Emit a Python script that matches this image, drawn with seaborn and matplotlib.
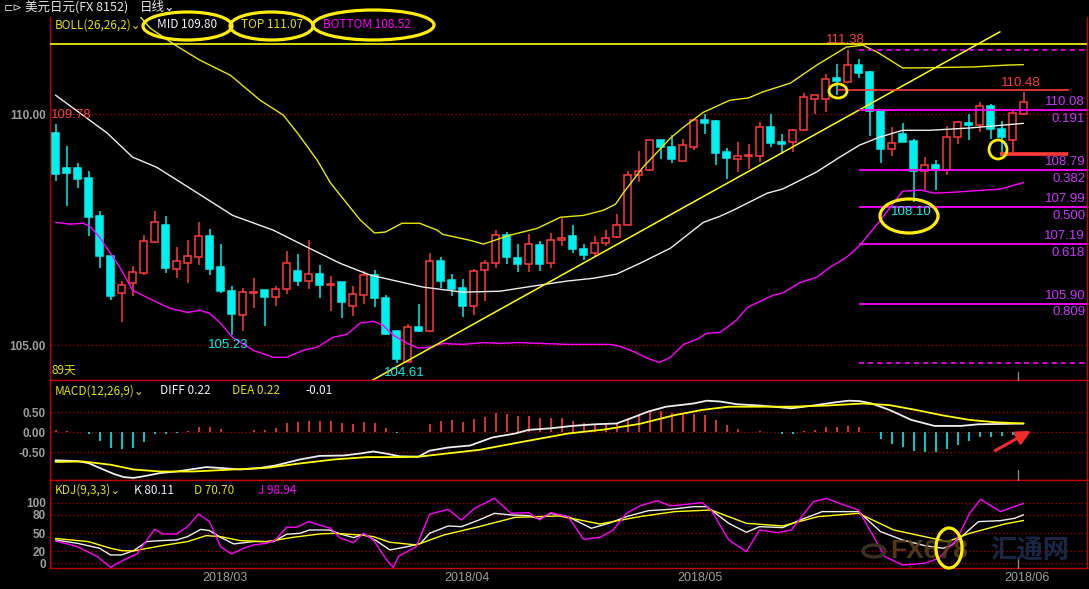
import numpy as np
import matplotlib
matplotlib.use("Agg")
import matplotlib.pyplot as plt
import matplotlib.patches as mpatches
from matplotlib.lines import Line2D
import seaborn as sns

# ---------------- data ----------------
opens = [109.59, 108.83, 108.83, 108.61, 107.79, 106.93, 106.13, 106.35, 106.56, 107.24,
         107.60, 106.66, 106.77, 106.90, 107.36, 106.69, 106.17, 105.66, 106.13, 106.19,
         106.05, 106.22, 106.60, 106.40, 106.55, 106.31, 106.36, 105.84, 106.08, 106.51,
         106.02, 105.30, 104.63, 105.39, 105.31, 106.82, 106.41, 106.23, 105.85, 106.62,
         106.77, 107.38, 106.88, 106.75, 107.18, 106.78, 107.28, 107.36, 107.09, 106.99,
         107.22, 107.34, 107.61, 108.69, 108.79, 109.43, 109.28, 108.99, 109.29, 109.87,
         109.85, 109.18, 109.04, 109.09, 109.10, 109.72, 109.40, 109.39, 109.65, 110.33,
         110.33, 110.78, 110.70, 111.07, 110.92, 110.08, 109.24, 109.56, 109.41, 108.76,
         108.89, 108.80, 109.50, 109.80, 109.77, 110.17, 109.68, 109.45, 110.01]
highs = [109.78, 109.31, 108.95, 108.77, 107.90, 106.93, 106.39, 106.72, 107.38, 107.90,
         107.79, 107.13, 107.27, 107.66, 107.51, 107.19, 106.28, 106.23, 106.45, 106.19,
         106.28, 107.03, 106.97, 107.27, 106.73, 106.50, 106.38, 106.29, 106.61, 106.62,
         106.08, 105.32, 105.47, 105.89, 106.99, 106.92, 106.54, 106.43, 106.65, 106.84,
         107.49, 107.45, 107.20, 107.40, 107.25, 107.42, 107.76, 107.61, 107.20, 107.37,
         107.50, 107.85, 108.77, 109.20, 109.45, 109.45, 109.55, 109.47, 109.87, 110.00,
         109.87, 109.26, 109.39, 109.35, 109.83, 110.00, 109.57, 109.68, 110.46, 110.41,
         110.87, 111.09, 111.38, 111.20, 110.94, 110.10, 109.73, 109.81, 109.46, 109.07,
         109.00, 109.74, 109.85, 110.00, 110.27, 110.22, 109.85, 110.12, 110.48]
lows = [108.55, 108.01, 108.40, 107.37, 106.67, 105.97, 105.50, 106.07, 106.52, 107.21,
        106.57, 106.46, 106.35, 106.73, 106.52, 106.13, 105.23, 105.32, 105.81, 105.42,
        105.85, 106.11, 106.28, 106.22, 106.02, 105.74, 105.58, 105.63, 105.90, 105.83,
        105.22, 104.61, 104.63, 105.29, 105.29, 106.23, 106.07, 105.61, 105.65, 105.96,
        106.68, 106.75, 106.59, 106.59, 106.61, 106.68, 107.15, 107.00, 106.84, 106.93,
        107.14, 107.33, 107.60, 108.53, 108.77, 109.03, 108.95, 108.99, 109.22, 109.57,
        108.90, 108.60, 108.75, 108.81, 108.96, 109.29, 109.14, 109.19, 109.65, 110.00,
        110.05, 110.41, 110.70, 110.79, 109.53, 108.95, 109.10, 109.40, 108.10, 108.36,
        108.36, 108.68, 109.36, 109.44, 109.62, 109.47, 109.16, 109.19, 109.97]
closes = [108.70, 108.73, 108.59, 107.78, 106.93, 106.07, 106.30, 106.58, 107.25, 107.66,
          106.67, 106.83, 106.93, 107.36, 106.65, 106.18, 105.68, 106.15, 106.16, 106.05,
          106.21, 106.79, 106.39, 106.55, 106.31, 106.33, 105.94, 106.10, 106.53, 106.03,
          105.24, 104.70, 105.39, 105.31, 106.83, 106.39, 106.21, 105.85, 106.60, 106.77,
          107.38, 106.91, 106.75, 107.20, 106.76, 107.27, 107.33, 107.09, 106.95, 107.22,
          107.33, 107.61, 108.69, 108.78, 109.43, 109.29, 109.03, 109.34, 109.87, 109.81,
          109.16, 109.05, 109.09, 109.11, 109.73, 109.38, 109.36, 109.65, 110.36, 110.41,
          110.75, 110.72, 111.07, 110.88, 110.07, 109.24, 109.37, 109.40, 108.76, 108.89,
          108.80, 109.50, 109.83, 109.76, 110.17, 109.68, 109.51, 110.02, 110.27]

# Bollinger bands (26,26,2) read at sample candles
mid_x = [0, 4.7, 7.0, 9.2, 12.2, 16.1, 19.8, 22.9, 25.9, 28.6, 33.4, 37.0, 40.4, 43.4, 46.5,
         48.9, 51.0, 53.1, 55.9, 57.4, 58.9, 60.4, 61.6, 64.7, 66.1, 67.7, 69.2, 71.3, 73.1,
         74.9, 77.0, 79.5, 83.1, 88.0]
mid_v = [110.41, 109.59, 109.07, 108.85, 108.40, 107.81, 107.49, 107.12, 106.77, 106.52,
         106.26, 106.15, 106.17, 106.28, 106.39, 106.45, 106.54, 106.77, 107.10, 107.38,
         107.66, 107.79, 107.92, 108.29, 108.38, 108.57, 108.75, 109.07, 109.33, 109.50,
         109.65, 109.65, 109.70, 109.80]
top_x = [7.0, 8.6, 10.9, 13.1, 15.9, 18.6, 20.7, 22.0, 23.8, 25.0, 27.7, 29.0, 30.0, 31.5,
         33.1, 34.7, 35.2, 37.7, 38.9, 41.3, 43.8, 45.9, 48.0, 49.8, 50.9, 51.6, 53.4, 55.9,
         57.0, 58.9, 61.3, 63.0, 64.3, 66.8, 69.2, 71.9, 73.4, 74.7, 77.0, 78.6, 83.4, 86.5,
         88.0]
top_v = [112.30, 111.86, 111.49, 111.17, 110.84, 110.30, 109.98, 109.59, 109.00, 108.51,
         107.71, 107.43, 107.45, 107.64, 107.64, 107.49, 107.40, 107.27, 107.19, 107.38,
         107.53, 107.77, 107.81, 107.92, 108.05, 108.29, 108.85, 109.48, 109.70, 110.04,
         110.30, 110.35, 110.48, 110.67, 111.06, 111.45, 111.49, 111.34, 111.00, 111.00,
         111.02, 111.06, 111.07]
bot_x = [0, 1.3, 2.5, 3.1, 4.0, 5.9, 7.0, 8.9, 10.4, 12.0, 13.1, 14.0, 15.0, 16.1, 18.0,
         19.8, 21.0, 22.5, 23.8, 25.2, 26.5, 27.7, 28.9, 29.8, 30.7, 32.0, 33.0, 34.0, 35.2,
         37.0, 38.9, 40.4, 42.0, 46.5, 50.4, 51.3, 52.5, 53.8, 54.9, 55.9, 57.1, 58.3, 59.2,
         60.4, 61.9, 62.9, 65.2, 66.1, 67.7, 69.2, 70.4, 71.9, 73.1, 74.0, 75.0, 77.0, 78.6,
         79.9, 81.6, 85.9, 88.0]
bot_v = [107.66, 107.62, 107.64, 107.58, 107.34, 106.67, 106.19, 105.97, 105.80, 105.71,
         105.76, 105.69, 105.48, 105.17, 104.89, 104.74, 104.74, 104.89, 104.96, 105.17,
         105.24, 105.48, 105.52, 105.43, 105.22, 105.04, 104.94, 104.96, 105.04, 105.02,
         105.06, 105.04, 105.06, 105.02, 105.02, 104.98, 104.87, 104.72, 104.63, 104.74,
         105.02, 105.13, 105.26, 105.28, 105.54, 105.82, 106.08, 106.13, 106.36, 106.47,
         106.69, 106.90, 107.16, 107.42, 107.71, 108.33, 108.36, 108.29, 108.31, 108.38,
         108.52]

# MACD (12,26,9)
macd_hist = [0.06, 0.03, 0.01, -0.05, -0.21, -0.38, -0.42, -0.38, -0.24, -0.05,
             -0.05, -0.02, 0.03, 0.13, 0.13, 0.08, 0.00, 0.02, 0.06, 0.06,
             0.11, 0.24, 0.27, 0.29, 0.29, 0.29, 0.24, 0.22, 0.27, 0.24,
             0.11, -0.02, 0.00, 0.00, 0.22, 0.29, 0.31, 0.26, 0.33, 0.38,
             0.49, 0.47, 0.41, 0.41, 0.36, 0.36, 0.36, 0.28, 0.23, 0.21,
             0.21, 0.23, 0.36, 0.44, 0.53, 0.53, 0.48, 0.46, 0.46, 0.43,
             0.31, 0.18, 0.08, 0.02, 0.03, 0.00, -0.03, -0.03, 0.03, 0.06,
             0.13, 0.13, 0.16, 0.13, 0.01, -0.17, -0.28, -0.37, -0.47, -0.50,
             -0.50, -0.42, -0.32, -0.22, -0.12, -0.12, -0.08, -0.07, -0.01]
diff_x = [0, 2, 3, 4, 5.3, 6.2, 7.1, 8, 9.5, 11, 12.5, 13.7, 14.9, 16.8, 18.6, 20, 22.2, 24,
          26.2, 27.7, 28.9, 30, 31.3, 33, 34, 35.7, 37.7, 39.7, 41.8, 43, 45, 47, 49, 51, 52.3,
          53.9, 55.5, 58, 59.2, 60.4, 62, 64, 66.9, 68.9, 70.9, 72.1, 73.1, 74.2, 75.8, 77.8,
          79.9, 82.3, 83.9, 86.3, 88]
diff_v = [-0.70, -0.72, -0.77, -0.89, -1.04, -1.12, -1.14, -1.10, -1.02, -0.98, -0.92, -0.87,
          -0.89, -0.93, -0.89, -0.83, -0.68, -0.59, -0.58, -0.53, -0.48, -0.53, -0.60, -0.61,
          -0.46, -0.38, -0.33, -0.13, -0.03, 0.06, 0.10, 0.16, 0.20, 0.22, 0.35, 0.52, 0.64,
          0.72, 0.79, 0.77, 0.70, 0.67, 0.60, 0.67, 0.75, 0.79, 0.78, 0.72, 0.56, 0.31, 0.16,
          0.16, 0.20, 0.21, 0.22]
dea_x = [0, 2.5, 5, 7.1, 9.5, 12.5, 16.2, 19.2, 22.2, 25.3, 28.3, 31.3, 33, 38.5, 42.6, 46.6,
         49.9, 53.1, 56.3, 58.8, 61.2, 64, 66.9, 70.2, 73.4, 75.8, 78.2, 80.7, 83.1, 85.5, 88]
dea_v = [-0.74, -0.73, -0.81, -0.93, -0.98, -0.98, -0.93, -0.89, -0.78, -0.68, -0.62, -0.62,
         -0.61, -0.44, -0.23, -0.03, 0.07, 0.21, 0.43, 0.56, 0.64, 0.64, 0.64, 0.67, 0.72,
         0.68, 0.56, 0.42, 0.31, 0.25, 0.22]

# KDJ (9,3,3)
k_x = [0, 2, 4, 5, 6, 7.1, 8.3, 9.5, 11, 12, 13.2, 14, 15, 16.2, 18, 19.8, 21, 22.2, 23.1,
       24.9, 25.9, 27.1, 28, 29.2, 30.4, 32, 33.2, 34, 35.7, 36.9, 38.5, 39.9, 41.4, 43, 44,
       45, 46.6, 48.7, 50.3, 51.9, 53.9, 55.9, 58, 59.2, 60, 61.2, 62.8, 64, 66.1, 67.7, 69.7,
       73, 75, 77, 79, 80.7, 81.5, 83.9, 85.9, 87.2, 88]
k_v = [38.5, 33, 24.8, 13.8, 13.8, 20.9, 35.8, 37.4, 38.5, 44, 56, 54, 43, 32, 35.8, 35.8,
       47.9, 49.5, 55, 55, 48.4, 42.4, 47.9, 36.9, 22, 27.5, 33, 49.5, 61.6, 60.5, 71.5, 82.5,
       79.8, 78.7, 73.2, 82.5, 77, 57.8, 66, 77, 86.9, 89.1, 93.5, 93.5, 82.5, 66, 51.2, 60.5,
       58.9, 71.5, 85.3, 85.3, 52.3, 38.5, 29.2, 24.8, 30.3, 68.8, 70.4, 74.3, 80.11]
d_x = [0, 3, 5, 6, 7.1, 9.5, 12, 13.7, 15, 16.8, 19.2, 21.6, 24, 25.3, 27.7, 28.9, 30.4, 32.8,
       35.3, 38.5, 41.8, 45.8, 49.5, 53.1, 56.3, 59.6, 62.8, 66.1, 69.3, 73, 76.2, 79, 81.1,
       83.1, 86.3, 88]
d_v = [41, 35.8, 24.8, 20.9, 20.4, 28.6, 35.8, 45.7, 44, 37.4, 35.8, 42.9, 48.4, 49.5, 46.8,
       44, 34.7, 30.3, 46.8, 60.5, 75.9, 78.1, 64.9, 77, 85.3, 88, 66, 61.6, 77, 82.5, 55, 44,
       35.8, 49.5, 64.9, 70.70]
j_x = [0, 2, 3.8, 5, 6.2, 7.4, 9, 9.8, 11, 12, 13, 14, 15, 16, 17.1, 18, 19.2, 20, 21, 21.9,
       23, 25, 25.9, 27.1, 28, 28.9, 30.1, 30.7, 31.2, 32.8, 34, 35.7, 36.9, 38.1, 39.9, 41.4,
       43, 44, 45, 46.6, 48, 49.5, 50.7, 51.9, 53.1, 54.7, 55.9, 58.8, 59.6, 61.2, 62.8, 64,
       65.7, 66.9, 68.9, 70.1, 71.4, 73, 74.2, 75.4, 77, 79, 80.3, 81.9, 83.1, 84.1, 85.9, 88]
j_v = [36.9, 27.5, 11, -6.6, 5.5, 15.4, 56, 48.4, 48.4, 60.5, 81.4, 68.8, 27.5, 15.4, 24.8,
       30.3, 33, 38.5, 59.4, 59.4, 68.8, 57.8, 41.3, 34.1, 49.5, 38.5, 5.5, -6.6, 12.1, 27.5,
       80.9, 89.1, 71.5, 90.8, 107.3, 82.5, 83.6, 71.5, 83.6, 77, 39.6, 42.9, 55, 82.5, 94.6,
       103.4, 94.6, 100.1, 88, 38.5, 19.3, 55, 50.6, 55, 101.8, 107.3, 97.9, 88, 49.5, 11,
       -2.8, 0, 8.3, 38.5, 82.5, 105.6, 85.3, 98.94]

# Fibonacci retracement drawn on the chart
fib_high = 111.38
fib_low = 104.61
fib_ratios = ["0.191", "0.382", "0.500", "0.618", "0.809"]
fib_prices = [110.08, 108.79, 107.99, 107.19, 105.90]

# tick labels
price_ticks = [105.00, 110.00]
macd_ticks = [-0.50, 0.00, 0.50]
kdj_ticks = [0, 20, 50, 80, 100]
date_labels = ["2018/03", "2018/04", "2018/05", "2018/06"]
date_pos = [15.4, 37.4, 58.6, 88.3]

# ---------------- style ----------------
sns.set_theme(style="dark", rc={"axes.facecolor": "black", "figure.facecolor": "black"})
plt.rcParams["font.family"] = ["Noto Sans CJK SC", "DejaVu Sans"]
plt.rcParams["axes.unicode_minus"] = False

W, H = 1089, 589
fig = plt.figure(figsize=(W / 100, H / 100), dpi=100, facecolor="black")


def rect(x0, y0, x1, y1):
    return [x0 / W, 1 - y1 / H, (x1 - x0) / W, (y1 - y0) / H]


def ftext(xp, yp, s, **kw):
    kw.setdefault("va", "center")
    return fig.text(xp / W, 1 - yp / H, s, **kw)


def fellipse(x0, y0, x1, y1, lw=2.3):
    e = mpatches.Ellipse(((x0 + x1) / 2 / W, 1 - (y0 + y1) / 2 / H), (x1 - x0) / W,
                         (y1 - y0) / H, transform=fig.transFigure, fill=False,
                         edgecolor="#ffee00", linewidth=lw, zorder=20)
    fig.patches.append(e)


RED = "#ff3a3a"
CYAN = "#00f0f0"
MAG = "#ff00ff"
YEL = "#ffff00"
WHITE = "#eeeeee"
GRID_RED = "#b00000"
SPINE = "#c00000"
TICKC = "#9c9c9c"
numfont = "Liberation Sans"

ax_p = fig.add_axes(rect(50, 17, 1087, 380))
ax_m = fig.add_axes(rect(50, 380, 1087, 480), sharex=ax_p)
ax_k = fig.add_axes(rect(50, 480, 1087, 568), sharex=ax_p)

for ax in (ax_p, ax_m, ax_k):
    ax.set_facecolor("black")
    for s in ax.spines.values():
        s.set_color(SPINE)
        s.set_linewidth(1.0)
        s.set_visible(True)
    ax.tick_params(axis="y", length=0, pad=3, labelcolor=TICKC, labelsize=8.5)
    ax.tick_params(axis="x", length=0)
    ax.grid(False)
ax_p.spines["top"].set_visible(False)

x = np.arange(len(opens))
o = np.array(opens); h = np.array(highs); l = np.array(lows); c = np.array(closes)
up = c >= o

# ---------------- price panel ----------------
ax_p.set_xlim(-0.5, 93.77)
ax_p.set_ylim(104.25, 112.10)
ax_p.set_yticks(price_ticks)
ax_p.set_yticklabels([f"{v:.2f}" for v in price_ticks], family=numfont, fontweight="bold")
for v in price_ticks:
    ax_p.axhline(v, color=GRID_RED, lw=0.9, ls=(0, (1, 2)), zorder=1)
plt.setp(ax_p.get_xticklabels(), visible=False)

wick_cols = [RED if u else CYAN for u in up]
ax_p.vlines(x, l, h, colors=wick_cols, linewidth=1.1, zorder=3)
bottoms = np.minimum(o, c)
heights = np.maximum(np.abs(c - o), 0.02)
ax_p.bar(x, heights, bottom=bottoms, width=0.64,
         color=["black" if u else CYAN for u in up],
         edgecolor=wick_cols, linewidth=1.1, zorder=4)

sns.lineplot(x=mid_x, y=mid_v, ax=ax_p, color=WHITE, linewidth=1.0, zorder=5, errorbar=None)
sns.lineplot(x=top_x, y=top_v, ax=ax_p, color="#e8e800", linewidth=1.0, zorder=5, errorbar=None)
sns.lineplot(x=bot_x, y=bot_v, ax=ax_p, color=MAG, linewidth=1.0, zorder=5, errorbar=None)

# drawn lines
ax_p.axhline(111.51, color=YEL, lw=1.2, zorder=5)
ax_p.plot([28.77, 85.86], [104.24, 111.78], color=YEL, lw=1.1, zorder=5)
fib_x0 = 73.05
for p, r in zip(fib_prices, fib_ratios):
    ax_p.hlines(p, fib_x0, 93.77, color=MAG, lw=1.3, zorder=5)
    ax_p.annotate(f"{p:.2f}", xy=(93.6, p), xytext=(0, 1.5), textcoords="offset points",
                  ha="right", va="bottom", color="#cc33ff", fontsize=9.5, family=numfont,
                  zorder=6)
    ax_p.annotate(r, xy=(93.6, p), xytext=(0, -2), textcoords="offset points",
                  ha="right", va="top", color="#cc33ff", fontsize=9.5, family=numfont,
                  zorder=6)
for p in (fib_high, fib_low):
    ax_p.hlines(p, fib_x0, 93.77, color=MAG, lw=1.2, ls=(0, (3, 2.5)), zorder=5)
ax_p.hlines(110.53, 71.0, 92.1, color=RED, lw=1.2, zorder=5)
ax_p.hlines(109.14, 85.9, 92.0, color=RED, lw=2.6, zorder=5)

# value labels
lab = dict(fontsize=9.5, family=numfont, ha="center", va="center", zorder=7)
ax_p.text(71.77, 111.60, "111.38", color=RED, **lab)
ax_p.text(87.77, 110.67, "110.48", color=RED, **lab)
ax_p.text(77.77, 107.88, "108.10", color=CYAN, **lab)
ax_p.text(15.73, 105.01, "105.23", color=CYAN, **lab)
ax_p.text(31.68, 104.41, "104.61", color=CYAN, **lab)
ax_p.text(-0.42, 109.98, "109.78", color=RED, fontsize=9.5, family=numfont, ha="left",
          va="center", zorder=7)

# ---------------- MACD panel ----------------
ax_m.set_ylim(-1.1925, 1.3075)
ax_m.set_yticks(macd_ticks)
ax_m.set_yticklabels([f"{v:.2f}" for v in macd_ticks], family=numfont, fontweight="bold")
for v in macd_ticks:
    ax_m.axhline(v, color=GRID_RED, lw=0.9, ls=(0, (1, 2)), zorder=1)
plt.setp(ax_m.get_xticklabels(), visible=False)
hist = np.array(macd_hist)
ax_m.vlines(x, 0, hist, colors=[RED if v > 0 else CYAN for v in hist], linewidth=1.2, zorder=3)
sns.lineplot(x=diff_x, y=diff_v, ax=ax_m, color=WHITE, linewidth=1.3, zorder=4, errorbar=None)
sns.lineplot(x=dea_x, y=dea_v, ax=ax_m, color=YEL, linewidth=1.3, zorder=4, errorbar=None)
ax_m.annotate("", xy=(88.9, 0.07), xytext=(85.2, -0.49),
              arrowprops=dict(arrowstyle="-|>,head_length=0.7,head_width=0.35",
                              color="#ee2a2a", lw=2.2), zorder=8)

# ---------------- KDJ panel ----------------
ax_k.set_ylim(-7.76, 137.5)
ax_k.set_yticks(kdj_ticks)
ax_k.set_yticklabels([str(v) for v in kdj_ticks], family=numfont, fontweight="bold")
for v in kdj_ticks:
    ax_k.axhline(v, color=GRID_RED, lw=0.9, ls=(0, (1, 2)), zorder=1)
sns.lineplot(x=k_x, y=k_v, ax=ax_k, color=WHITE, linewidth=1.0, zorder=4, errorbar=None)
sns.lineplot(x=d_x, y=d_v, ax=ax_k, color=YEL, linewidth=1.0, zorder=4, errorbar=None)
sns.lineplot(x=j_x, y=j_v, ax=ax_k, color=MAG, linewidth=1.0, zorder=4, errorbar=None)
ax_k.set_xticks(date_pos)
ax_k.set_xticklabels(date_labels, color=TICKC, fontsize=9, family=numfont)
ax_k.tick_params(axis="x", pad=3)
for ax in (ax_p, ax_m, ax_k):
    ax.set_xlabel("")
    ax.set_ylabel("")

# watermark
ftext(890, 551, "FX678", color="#5e4218", fontsize=19, fontweight="bold", alpha=0.85,
      family="Liberation Sans", zorder=2)
ftext(990, 551, "汇通网", color="#1c2c4c", fontsize=19, fontweight="bold", alpha=0.9, zorder=2)
fig.patches.append(mpatches.Circle((874 / W, 1 - 551 / H), 11 / W, transform=fig.transFigure,
                                   fill=False, edgecolor="#3a3020", lw=2.5, zorder=2))

# cursor marks
for (y0, y1) in [(372, 380), (470, 480), (558, 568)]:
    fig.add_artist(Line2D([1018 / W, 1018 / W], [1 - y0 / H, 1 - y1 / H], color="#888888", lw=1))

# ---------------- header texts ----------------
hfs = 8.5
ftext(25, 8, "美元日元(FX 8152)", color="#e8e8e8", fontsize=9)
ftext(140, 8, "日线⌄", color="#e8e8e8", fontsize=9)
ftext(4, 8, "⊏⊳", color="#cccccc", fontsize=8, family="DejaVu Sans")

ftext(55, 25, "BOLL(26,26,2)⌄", color="#e0e000", fontsize=hfs)
ftext(157, 25, "MID 109.80", color="#f0f0ff", fontsize=hfs)
ftext(241, 25, "TOP 111.07", color="#e0e000", fontsize=hfs)
ftext(323, 25, "BOTTOM 108.52", color=MAG, fontsize=hfs)

ftext(55, 391, "MACD(12,26,9)⌄", color="#e0e000", fontsize=hfs)
ftext(160, 391, "DIFF 0.22", color="#f0f0ff", fontsize=hfs)
ftext(232, 391, "DEA 0.22", color="#e0e000", fontsize=hfs)
ftext(305, 391, "-0.01", color="#f0f0ff", fontsize=hfs)

ftext(55, 490, "KDJ(9,3,3)⌄", color="#e0e000", fontsize=hfs)
ftext(134, 490, "K 80.11", color="#f0f0ff", fontsize=hfs)
ftext(194, 490, "D 70.70", color="#e0e000", fontsize=hfs)
ftext(258, 490, "J 98.94", color=MAG, fontsize=hfs)

ftext(52, 370, "89天", color="#e0e000", fontsize=hfs)

# yellow ellipses
fellipse(143, 12, 232, 40)
fellipse(230, 12, 313, 40)
fellipse(313, 10, 434, 40)
fellipse(880, 199, 938, 233)
fellipse(829, 84, 847, 98, lw=2.0)
fellipse(989, 140, 1007, 159, lw=2.0)
fellipse(936, 528, 962, 568)

fig.savefig("out.png", dpi=100, facecolor="black")
